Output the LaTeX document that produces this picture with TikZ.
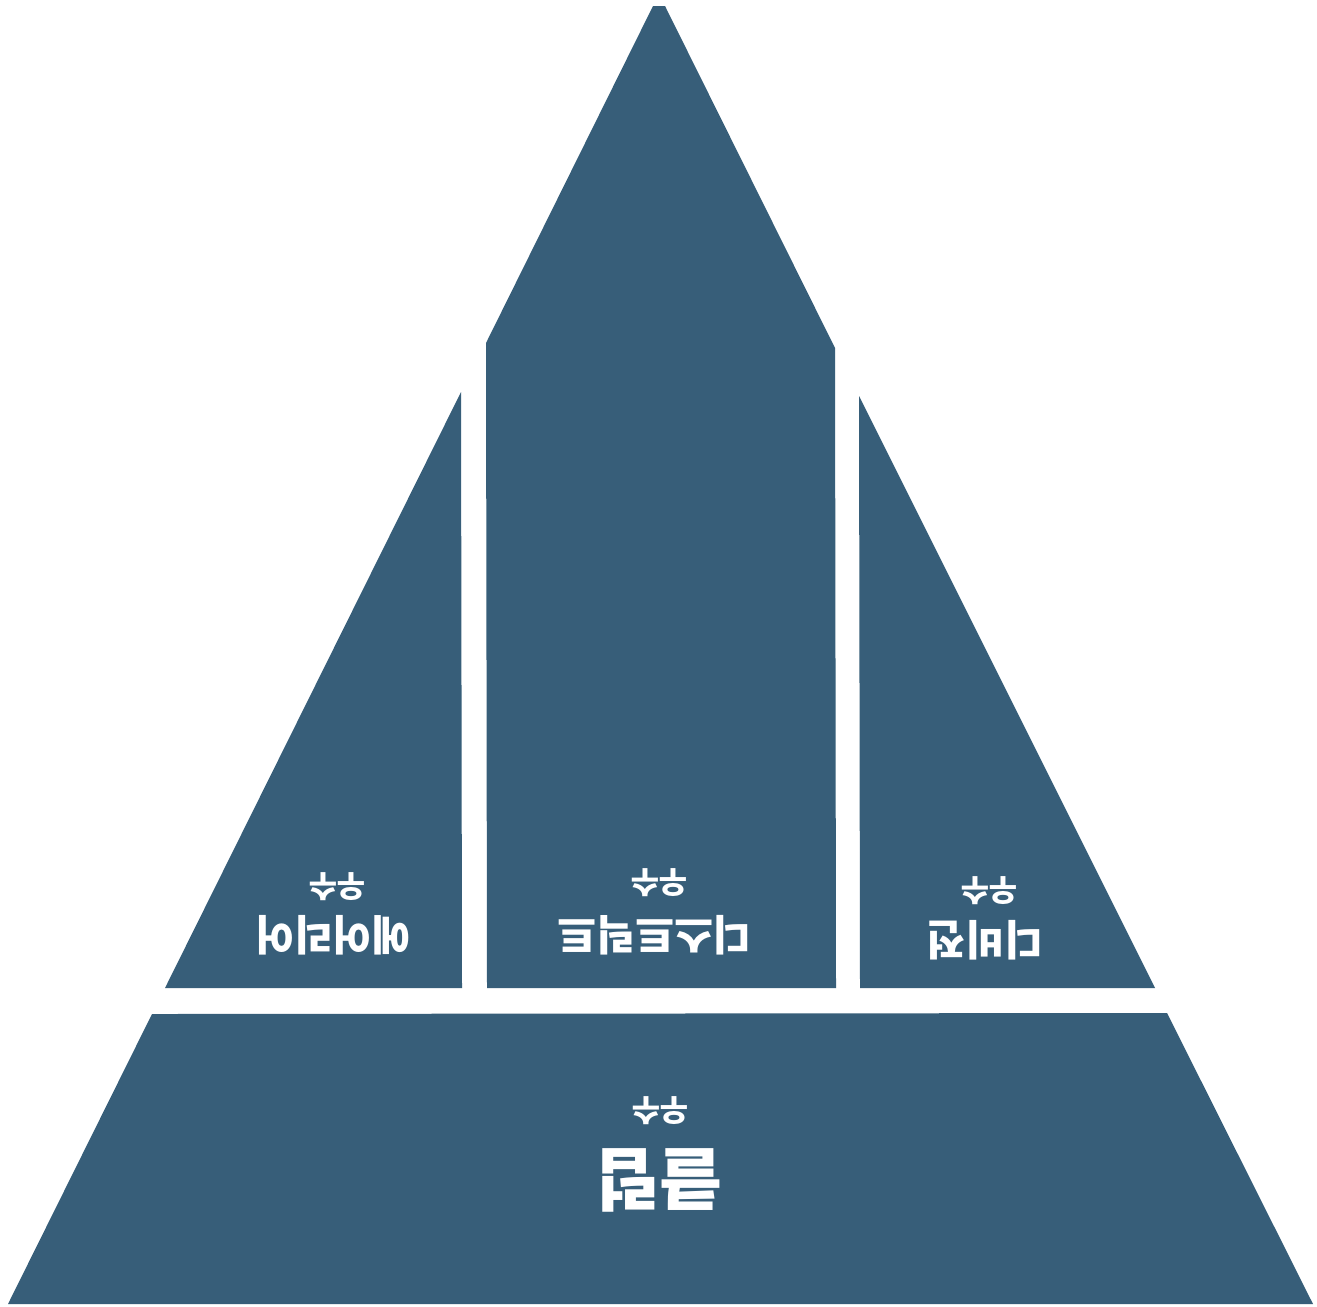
\documentclass[tikz,border=0pt]{standalone}
\usepackage{fontspec}
\newfontfamily\kr{Noto Sans CJK KR}
\definecolor{pyr}{RGB}{55,94,121}
\begin{document}
\begin{tikzpicture}[x=0.02cm,y=-0.02cm,
  block/.style={fill=pyr},
  lblsmall/.style={text=white,rotate=180,inner sep=0pt,font=\kr\bfseries\fontsize{17.5}{17.5}\selectfont},
  lblname/.style={text=white,rotate=180,inner sep=0pt,font=\kr\bfseries\fontsize{24}{24}\selectfont},
  lblbig/.style={text=white,rotate=180,inner sep=0pt,font=\kr\bfseries\fontsize{39}{39}\selectfont}]
\useasboundingbox[fill=white] (0,0) rectangle (1317,1306);
% shapes
\fill[block] (653,6) -- (665,6) -- (835,348) -- (836,988) -- (487,988) -- (486,343) -- cycle;
\fill[block] (461,392) -- (462,988) -- (165,988) -- cycle;
\fill[block] (859,396) -- (860,988) -- (1155,988) -- cycle;
\fill[block] (152,1014) -- (1167,1013) -- (1313,1304) -- (8,1304) -- cycle;
% labels
\node[lblsmall] (ls) at (337,887) {우수};
\node[lblname] (ln) at (333,935) {에어리어};
\node[lblsmall] (ms) at (659,883) {우수};
\node[lblname] (mn) at (655,935) {디스트릭트};
\node[lblsmall] (rs) at (989,891) {우수};
\node[lblname] (rn) at (985,940) {디비전};
\node[lblsmall] (bs) at (660,1111) {우수};
\node[lblbig] (bn) at (659,1180) {클럽};
\end{tikzpicture}
\end{document}
